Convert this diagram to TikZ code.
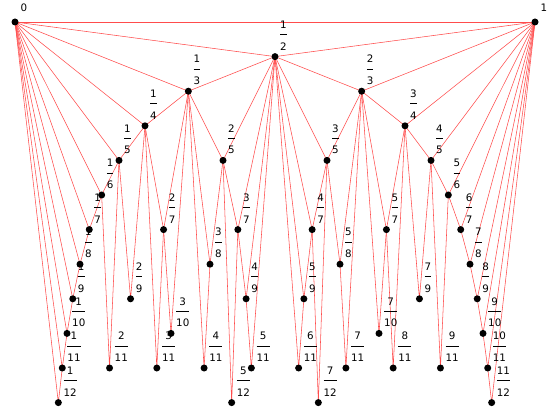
\documentclass[tikz,border=0pt]{standalone}
\usepackage{fontspec}
\setmainfont{DejaVu Sans}
\usetikzlibrary{calc}

% stacked fraction label: numerator, bar, denominator
\newcommand{\fareyfrac}[2]{{\setlength{\tabcolsep}{0pt}%
  \begin{tabular}[b]{c}#1\\[2.4pt]\hline\rule{0pt}{15.5pt}#2\end{tabular}}}

\tikzset{
  farey edge/.style={red!70, line width=0.55pt},
  farey dot/.style={circle, fill=black, inner sep=0pt, minimum size=7pt},
  farey label/.style={anchor=base west, inner sep=0pt, font=\fontsize{10.3}{12}\selectfont},
}

\begin{document}
\begin{tikzpicture}[x=1pt, y=-1pt]
  \useasboundingbox (0,0) rectangle (550,420);
  % positions: p/q across, one row per denominator
  \coordinate (f0-1) at (15,22);
  \coordinate (f1-1) at (535,22);
  \foreach \q in {2,...,12} {
    \pgfmathtruncatemacro{\qm}{\q-1}
    \foreach \p in {1,...,\qm} {
      \pgfmathtruncatemacro{\g}{gcd(\p,\q)}
      \ifnum\g=1
        \coordinate (f\p-\q) at ({15+520*\p/\q}, {22+34.6*(\q-1)});
      \fi
    }
  }
  % edges: each fraction to its two Farey parents
  \draw[farey edge] (f0-1) -- (f1-1);
  \foreach \q in {2,...,12} {
    \pgfmathtruncatemacro{\qm}{\q-1}
    \foreach \p in {1,...,\qm} {
      \pgfmathtruncatemacro{\g}{gcd(\p,\q)}
      \ifnum\g=1
        \foreach \b in {1,...,\qm} {
          \pgfmathtruncatemacro{\r}{round(mod(\p*\b,\q))}
          \ifnum\r=1
            \pgfmathtruncatemacro{\a}{round((\p*\b-1)/\q)}
            \pgfmathtruncatemacro{\c}{\p-\a}
            \pgfmathtruncatemacro{\d}{\q-\b}
            \draw[farey edge] (f\a-\b) -- (f\p-\q) -- (f\c-\d);
          \fi
        }
      \fi
    }
  }
  % dots and labels
  \foreach \p in {0,1} {
    \node[farey dot] (d\p-1) at (f\p-1) {};
    \node[farey label] (l\p-1) at ([shift={(5.5,-10.5)}]f\p-1) {\p};
  }
  \foreach \q in {2,...,12} {
    \pgfmathtruncatemacro{\qm}{\q-1}
    \foreach \p in {1,...,\qm} {
      \pgfmathtruncatemacro{\g}{gcd(\p,\q)}
      \ifnum\g=1
        \node[farey dot] (d\p-\q) at (f\p-\q) {};
        \node[farey label] (l\p-\q) at ([shift={(5,-6.5)}]f\p-\q) {\fareyfrac{\p}{\q}};
      \fi
    }
  }
\end{tikzpicture}
\end{document}
